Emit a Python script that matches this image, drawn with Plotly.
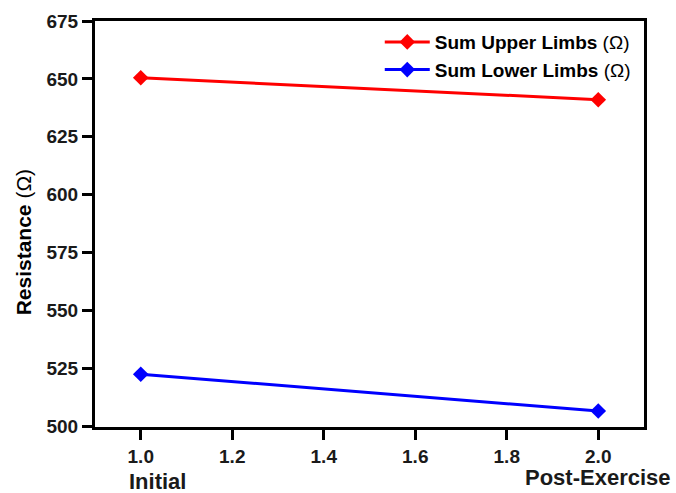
import plotly.graph_objects as go

x_vals = [1.0, 2.0]
upper_limbs = [650.5, 641.0]
lower_limbs = [522.4, 506.5]
series_names = ["<b>Sum Upper Limbs</b> (Ω)", "<b>Sum Lower Limbs</b> (Ω)"]
y_ticks = [500, 525, 550, 575, 600, 625, 650, 675]
x_ticks = [1.0, 1.2, 1.4, 1.6, 1.8, 2.0]
x_labels = ["Initial", "Post-Exercise"]
y_title = "<b>Resistance</b> (Ω)"

FONT = "Liberation Sans, Arial, sans-serif"

fig = go.Figure()
fig.add_trace(go.Scatter(x=x_vals, y=upper_limbs, mode="lines+markers", name=series_names[0],
                         line=dict(color="#ff0000", width=3),
                         marker=dict(symbol="diamond", size=12, color="#ff0000")))
fig.add_trace(go.Scatter(x=x_vals, y=lower_limbs, mode="lines+markers", name=series_names[1],
                         line=dict(color="#0000ff", width=3),
                         marker=dict(symbol="diamond", size=12, color="#0000ff")))

axis_common = dict(showline=True, linecolor="black", linewidth=3, mirror=True,
                   ticks="outside", ticklen=10, tickwidth=3, tickcolor="black",
                   showgrid=False, zeroline=False, automargin=False,
                   tickfont=dict(family=FONT, size=19, color="#1a1a1a"))

fig.update_xaxes(range=[0.9, 2.1], tickvals=x_ticks,
                 ticktext=[f"<b>{v:.1f}</b>" for v in x_ticks], **axis_common)
fig.update_yaxes(range=[499.6, 675], tickvals=y_ticks,
                 ticktext=[f"<b>{v}</b>" for v in y_ticks], **axis_common)

fig.add_annotation(x=-0.131, y=0.455, xref="paper", yref="paper", text=y_title, textangle=-90,
                   showarrow=False, xanchor="center", yanchor="middle",
                   font=dict(family=FONT, size=21, color="black"))
fig.add_annotation(x=0.97, y=0, xref="x", yref="paper", yshift=-54, text=f"<b>{x_labels[0]}</b>",
                   showarrow=False, xanchor="left", yanchor="middle",
                   font=dict(family=FONT, size=22, color="#1a1a1a"))
fig.add_annotation(x=2.0, y=0, xref="x", yref="paper", yshift=-50, text=f"<b>{x_labels[1]}</b>",
                   showarrow=False, xanchor="center", yanchor="middle",
                   font=dict(family=FONT, size=22, color="#1a1a1a"))

fig.update_layout(
    width=676, height=493,
    margin=dict(l=95, r=32, t=21, b=66),
    paper_bgcolor="white", plot_bgcolor="white",
    showlegend=True,
    legend=dict(x=0.985, y=0.995, xanchor="right", yanchor="top", bgcolor="rgba(255,255,255,0)",
                font=dict(family=FONT, size=19, color="black"),
                tracegroupgap=0, itemwidth=45),
)

fig.write_html("out.html", config={"displayModeBar": False},
               post_script="document.body.style.margin='0px';")
